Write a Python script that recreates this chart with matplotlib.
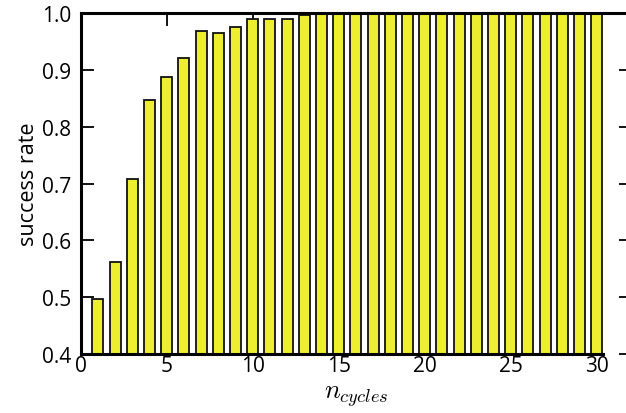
import matplotlib
matplotlib.use("Agg")
import matplotlib.pyplot as plt
import numpy as np

# success rate per number of cycles
n_cycles = list(range(1, 31))
success_rate = [0.497, 0.562, 0.708, 0.847, 0.888, 0.921, 0.968, 0.966, 0.976, 0.990,
                0.990, 0.990, 0.997, 0.999, 1.0, 1.0, 1.0, 1.0, 1.0, 1.0,
                1.0, 1.0, 1.0, 1.0, 1.0, 1.0, 1.0, 1.0, 1.0, 1.0]
x_ticks = [0, 5, 10, 15, 20, 25, 30]
y_ticks = [0.4, 0.5, 0.6, 0.7, 0.8, 0.9, 1.0]

plt.rcParams['font.family'] = ['Open Sans', 'DejaVu Sans']
plt.rcParams['mathtext.fontset'] = 'cm'

fig = plt.figure(figsize=(6.26, 4.14), dpi=100)
ax = fig.add_axes([0.129, 0.1425, 0.879, 0.823])

ax.bar(n_cycles, success_rate, width=0.64, color='#eeee30',
       edgecolor='#111111', linewidth=1.3, zorder=2)

ax.set_xlim(0, 32)
ax.set_ylim(0.4, 1.0)
ax.set_xticks(x_ticks)
ax.set_yticks(y_ticks)
ax.set_yticklabels([f"{v:.1f}" for v in y_ticks])

ax.tick_params(direction='in', length=9, width=1.3, labelsize=15,
               top=True, right=True, pad=1)
ax.tick_params(axis='y', pad=7)

for side in ['left', 'top', 'bottom']:
    ax.spines[side].set_linewidth(2.2)
    ax.spines[side].set_zorder(3)
ax.spines['right'].set_visible(False)
ax.spines['bottom'].set_bounds(0, 30.35)

ax.set_xlabel(r'$n_{cycles}$', fontsize=19, labelpad=5)
ax.set_ylabel('success rate', fontsize=15.5, labelpad=2)

fig.savefig('out.png', dpi=100)
